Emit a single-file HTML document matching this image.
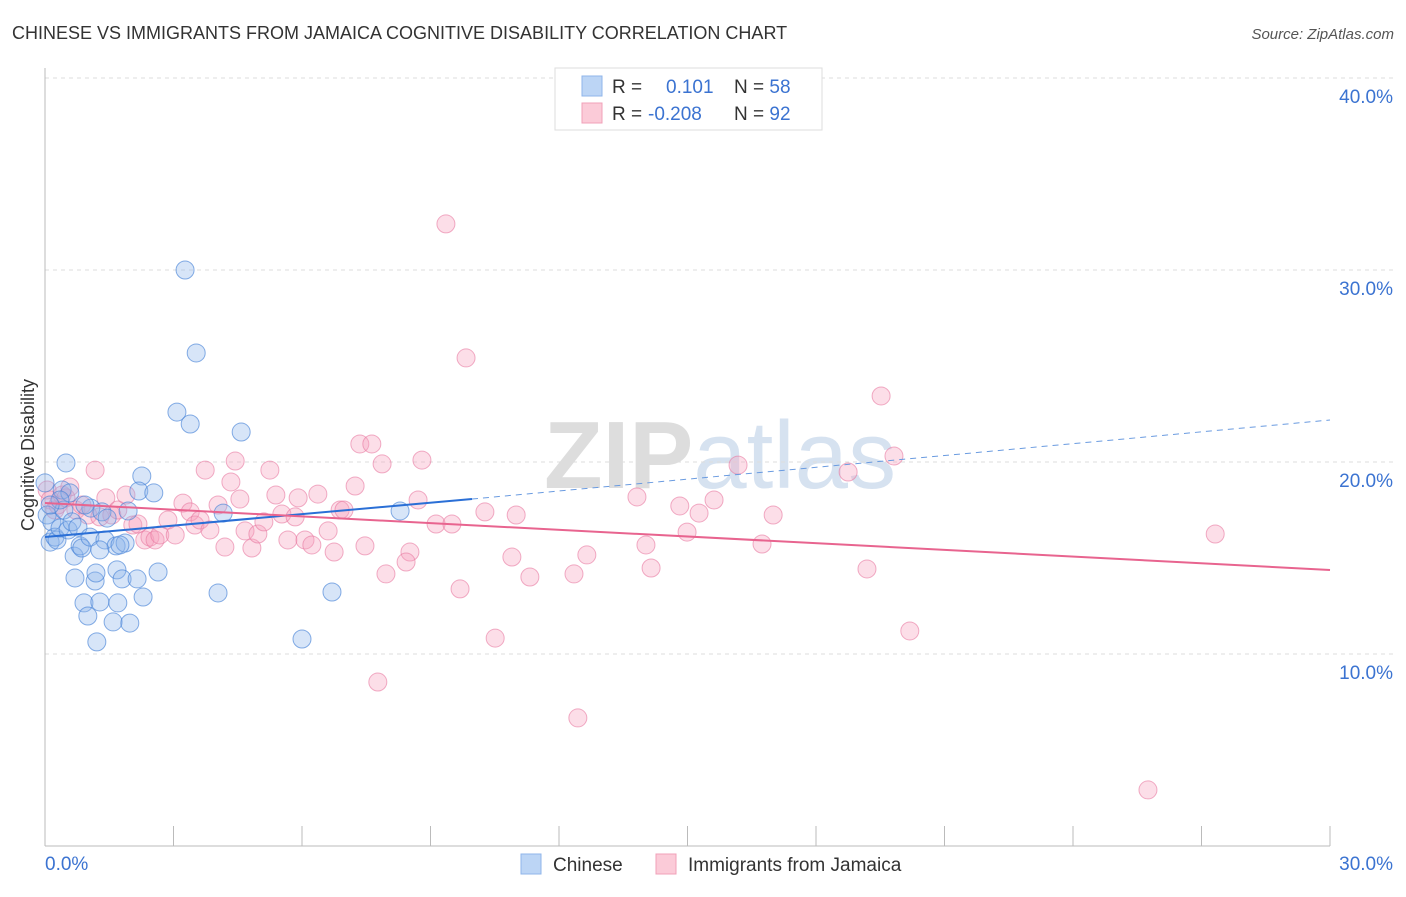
<!DOCTYPE html>
<html><head><meta charset="utf-8"><style>
body{margin:0;background:#fff;font-family:"Liberation Sans",sans-serif}
svg text{font-family:"Liberation Sans",sans-serif}
</style></head><body>
<svg id="c" width="1406" height="892">
<text x="12" y="39" font-size="18" fill="#333">CHINESE VS IMMIGRANTS FROM JAMAICA COGNITIVE DISABILITY CORRELATION CHART</text>
<text x="1394" y="39" font-size="15" fill="#555" font-style="italic" text-anchor="end">Source: ZipAtlas.com</text>
<text x="720" y="488" font-size="96" fill="#e4e4e4" text-anchor="middle" font-family="Liberation Serif"><tspan font-weight="bold" fill="#ddd">ZIP</tspan><tspan fill="#d6e2f0">atlas</tspan></text>
<text transform="translate(34,455) rotate(-90)" font-size="18" fill="#333" text-anchor="middle">Cognitive Disability</text>
<g id="grid"></g><g id="pts"></g><g id="lines"></g>
<g>
<rect x="555" y="68" width="267" height="62" fill="#fff" stroke="#ddd"/>
<rect x="582" y="76" width="20" height="20" fill="#bcd5f5" stroke="#8fb5ea"/>
<rect x="582" y="103" width="20" height="20" fill="#fbcbd8" stroke="#f0a0b8"/>
<text x="612" y="93" font-size="19" fill="#333">R = <tspan fill="#3b73d1" x="666">0.101</tspan><tspan x="734" fill="#333">N = </tspan><tspan fill="#3b73d1">58</tspan></text>
<text x="612" y="120" font-size="19" fill="#333">R = <tspan fill="#3b73d1" x="648">-0.208</tspan><tspan x="734" fill="#333">N = </tspan><tspan fill="#3b73d1">92</tspan></text>
</g>
<g>
<rect x="521" y="854" width="20" height="20" fill="#bcd5f5" stroke="#8fb5ea"/>
<text x="553" y="871" font-size="19" fill="#333">Chinese</text>
<rect x="656" y="854" width="20" height="20" fill="#fbcbd8" stroke="#f0a0b8"/>
<text x="688" y="871" font-size="19" fill="#333">Immigrants from Jamaica</text>
</g>
</svg>
<script>
const xTicks=[0,30];
const yTicks=[10,20,30,40];
// data in % (x), % (y)
const bluePx=[[45,483],[47,515],[50,542],[52,522],[55,537],[57,540],[60,528],[62,490],[64,510],[66,463],[68,530],[70,493],[72,522],[74,556],[75,578],[78,527],[80,546],[82,548],[84,603],[88,616],[90,537],[91,508],[95,581],[96,573],[97,642],[100,602],[102,512],[105,540],[107,518],[113,622],[116,546],[117,570],[118,603],[122,579],[125,543],[128,511],[130,623],[137,579],[142,476],[143,597],[139,491],[154,493],[158,572],[177,412],[185,270],[190,424],[196,353],[218,593],[223,513],[241,432],[302,639],[332,592],[400,511],[60,500],[85,505],[50,505],[120,545],[100,550]];
const pinkPx=[[47,490],[50,500],[55,510],[58,505],[62,495],[66,498],[70,487],[76,510],[82,505],[88,515],[95,470],[100,517],[106,498],[112,515],[118,510],[126,495],[133,525],[138,524],[145,540],[150,537],[155,540],[160,535],[168,520],[175,535],[183,503],[190,512],[195,525],[200,520],[205,470],[210,530],[218,505],[225,547],[231,482],[235,461],[240,499],[245,531],[252,548],[258,534],[264,522],[270,470],[276,495],[282,514],[288,540],[295,517],[298,498],[305,540],[312,545],[318,494],[328,531],[334,552],[340,510],[344,510],[355,486],[360,444],[365,546],[372,444],[378,682],[382,464],[386,574],[410,552],[418,500],[406,562],[422,460],[436,524],[446,224],[452,524],[460,589],[466,358],[485,512],[495,638],[512,557],[516,515],[530,577],[574,574],[578,718],[587,555],[637,497],[646,545],[651,568],[680,506],[687,532],[699,513],[714,500],[738,465],[762,544],[773,515],[848,472],[867,569],[881,396],[894,456],[910,631],[1148,790],[1215,534]];
const X=v=>45+v*(1285/30), Y=v=>654-(v-10)*19.2;
const Xi=p=>(p-45)/(1285/30), Yi=p=>10+(654-p)/19.2;
const chinese=bluePx.map(p=>[+Xi(p[0]).toFixed(2),+Yi(p[1]).toFixed(2)]);
const jamaica=pinkPx.map(p=>[+Xi(p[0]).toFixed(2),+Yi(p[1]).toFixed(2)]);
const ns="http://www.w3.org/2000/svg";
function mk(t,a,parent){const e=document.createElementNS(ns,t);for(const k in a)e.setAttribute(k,a[k]);parent.appendChild(e);return e;}
const grid=document.getElementById('grid');
yTicks.forEach(v=>{const l=mk('line',{x1:45,x2:1394,y1:Y(v),y2:Y(v),stroke:'#ddd','stroke-dasharray':'4,4'},grid);


const t=mk('text',{x:1393,y:Y(v)+25,'font-size':19,fill:'#3b73d1','text-anchor':'end'},grid);t.textContent=v.toFixed(1)+'%';

});
mk('line',{x1:45,x2:45,y1:68,y2:846,stroke:'#bbb'},grid);
mk('line',{x1:45,x2:1330,y1:846,y2:846,stroke:'#bbb'},grid);
for(let i=0;i<=10;i++){const x=45+i*128.5;mk('line',{x1:x,x2:x,y1:826,y2:846,stroke:'#bbb'},grid);}
xTicks.forEach((v,i)=>{const t=mk('text',{x:i?1393:45,y:870,'font-size':19,fill:'#3b73d1','text-anchor':i?'end':'start'},grid);t.textContent=v.toFixed(1)+'%';

});
const pts=document.getElementById('pts');
jamaica.forEach(d=>{const c=mk('circle',{cx:X(d[0]),cy:Y(d[1]),r:9,fill:'rgba(246,160,188,0.35)',stroke:'rgba(232,120,160,0.6)'},pts);

});
chinese.forEach(d=>{const c=mk('circle',{cx:X(d[0]),cy:Y(d[1]),r:9,fill:'rgba(140,180,235,0.35)',stroke:'rgba(70,130,215,0.65)'},pts);

});
const L=document.getElementById('lines');
const bl=mk('line',{x1:X(0),y1:Y(Yi(537)),x2:X(Xi(472)),y2:Y(Yi(499)),stroke:'#2a6fd6','stroke-width':2},L);


const bd=mk('line',{x1:X(Xi(472)),y1:Y(Yi(499)),x2:X(30),y2:Y(Yi(420)),stroke:'#6a9be0','stroke-width':1,'stroke-dasharray':'6,5'},L);


const pl=mk('line',{x1:X(0),y1:Y(Yi(503)),x2:X(30),y2:Y(Yi(570)),stroke:'#e8648f','stroke-width':2},L);


</script>
</body></html>
